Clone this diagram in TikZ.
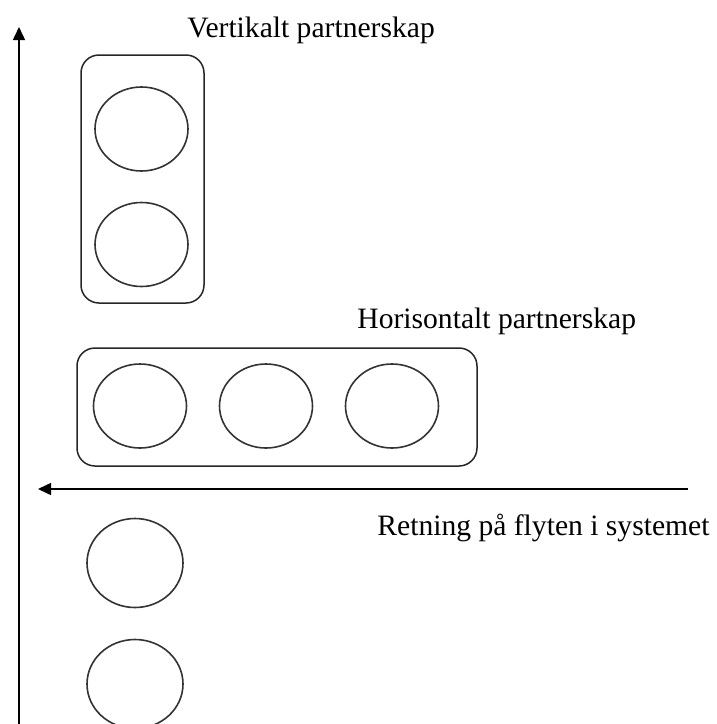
\documentclass[tikz,border=0pt]{standalone}
\usepackage{fontspec}
\setmainfont{Liberation Serif}
\usetikzlibrary{arrows.meta,shapes.geometric}
\tikzset{
  px/.style={x=0.5pt,y=-0.5pt},
  frame/.style={draw=black!85,line width=0.75pt,rounded corners=9pt,inner sep=0pt},
  ring/.style={draw=black!80,line width=0.8pt,ellipse,inner sep=0pt,minimum width=46.5pt,minimum height=42pt},
  bigring/.style={ring,minimum width=48pt,minimum height=44.5pt},
  axis/.style={draw=black,line width=0.75pt,-{Triangle[length=6.5pt,width=6pt]}},
  lbl/.style={anchor=base west,inner sep=0pt,font=\fontsize{14.8}{18}\selectfont}
}
\begin{document}
\begin{tikzpicture}[px]
\useasboundingbox (0,0) rectangle (717,724);
% vertical partnership box
\node[frame,minimum width=61.5pt,minimum height=124pt] (vbox) at (142.5,179) {};
\node[ring] (v1) at (141.5,129) {};
\node[ring] (v2) at (141.5,244.5) {};
% horizontal partnership box
\node[frame,minimum width=200pt,minimum height=59pt] (hbox) at (277,407) {};
\node[ring] (h1) at (140,406) {};
\node[ring] (h2) at (266,406) {};
\node[ring] (h3) at (392,406) {};
% loose circles
\node[bigring] (b1) at (135,563) {};
\node[bigring] (b2) at (135,684) {};
% axes
\coordinate (vs) at (19,724);
\coordinate (ve) at (19,27);
\coordinate (hs) at (688,489);
\coordinate (he) at (38,489);
\draw[axis] (vs) -- (ve);
\draw[axis] (hs) -- (he);
% labels
\node[lbl] (tv) at (187,37) {Vertikalt partnerskap};
\node[lbl] (th) at (357,328) {Horisontalt partnerskap};
\node[lbl] (tr) at (377,535) {Retning på flyten i systemet};
\end{tikzpicture}
\end{document}
